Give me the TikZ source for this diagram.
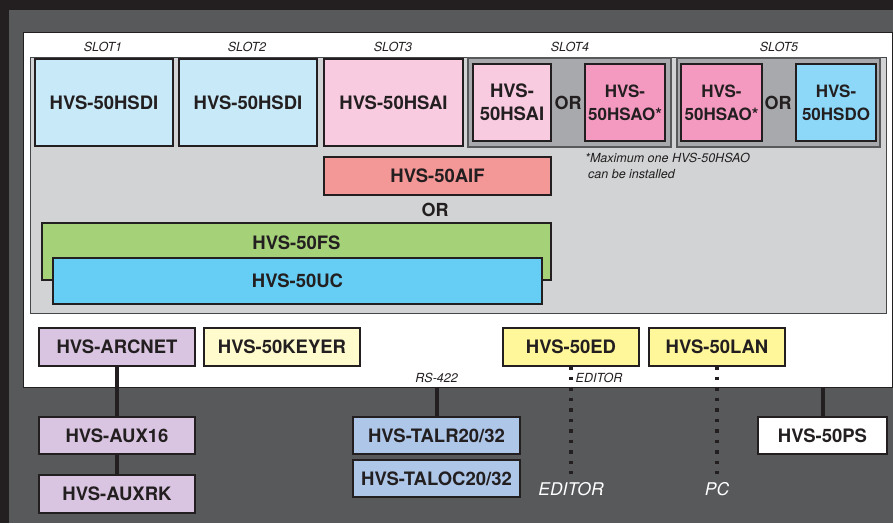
\documentclass[tikz,border=0pt]{standalone}
\usepackage{fontspec}
\setmainfont{TeX Gyre Heros}
\definecolor{blk}{HTML}{231F20}
\definecolor{dgray}{HTML}{58595B}
\definecolor{lgray}{HTML}{D1D3D4}
\definecolor{sgray}{HTML}{A7A9AC}
\definecolor{cSDI}{HTML}{C7E9F8}
\definecolor{cSAI}{HTML}{F9CBE0}
\definecolor{cSAO}{HTML}{F49AC1}
\definecolor{cSDO}{HTML}{8DD8F8}
\definecolor{cAIF}{HTML}{F49797}
\definecolor{cFS}{HTML}{A5D279}
\definecolor{cUC}{HTML}{66CEF5}
\definecolor{cARC}{HTML}{D9C5E1}
\definecolor{cKEY}{HTML}{FFFBCC}
\definecolor{cED}{HTML}{FFF799}
\definecolor{cTAL}{HTML}{AEC6E8}
\begin{document}
\begin{tikzpicture}[x=1pt,y=-1pt,
  box/.style={draw=blk, line width=2.5pt, text=blk, inner sep=0pt, outer sep=0pt,
    anchor=north west, align=center, font=\bfseries\fontsize{18.5}{23}\selectfont},
  sbox/.style={box, font=\bfseries\fontsize{17}{23}\selectfont},
  slotlbl/.style={text=blk, font=\itshape\fontsize{12.5}{14}\selectfont, inner sep=0pt},
  orlbl/.style={text=blk, font=\bfseries\fontsize{18}{20}\selectfont, inner sep=0pt},
  wire/.style={draw=blk, line width=4pt},
  dwire/.style={draw=blk, line width=4pt, dash pattern=on 3.5pt off 7pt},
  outlbl/.style={text=white, font=\itshape\fontsize{17.5}{20}\selectfont, inner sep=0pt}
]
\useasboundingbox (0,0) rectangle (893,523);
\fill[blk] (0,0) rectangle (893,523);
\fill[dgray] (9,10) rectangle (893,523);
\draw[blk, fill=white, line width=1pt] (23,32) rectangle (892,387);
\draw[dgray!80!black, fill=lgray, line width=1pt] (30,57) rectangle (886,313);
\draw[dgray, fill=sgray, line width=1.2pt] (468,58) rectangle (671,147);
\draw[dgray, fill=sgray, line width=1.2pt] (677,58) rectangle (880,147);

% slot labels
\node[slotlbl] (s1) at (103,47) {SLOT1};
\node[slotlbl] (s2) at (247,47) {SLOT2};
\node[slotlbl] (s3) at (393,47) {SLOT3};
\node[slotlbl] (s4) at (570,47) {SLOT4};
\node[slotlbl] (s5) at (779,47) {SLOT5};

% slot cards
\node[box, fill=cSDI, minimum width=138pt, minimum height=87pt] (hsdi1) at (35,59) {HVS-50HSDI};
\node[box, fill=cSDI, minimum width=138pt, minimum height=87pt] (hsdi2) at (179,59) {HVS-50HSDI};
\node[box, fill=cSAI, minimum width=139pt, minimum height=87pt] (hsai3) at (324,59) {HVS-50HSAI};
\node[box, fill=cSAI, minimum width=78pt, minimum height=77pt] (hsai4) at (473,64) {HVS-\\50HSAI};
\node[orlbl] (or4) at (568,103) {OR};
\node[sbox, fill=cSAO, minimum width=80pt, minimum height=77pt] (hsao4) at (585,64) {HVS-\\50HSAO*};
\node[sbox, fill=cSAO, minimum width=81pt, minimum height=77pt] (hsao5) at (681,64) {HVS-\\50HSAO*};
\node[orlbl] (or5) at (778,103) {OR};
\node[sbox, fill=cSDO, minimum width=80pt, minimum height=77pt] (hsdo5) at (796,64) {HVS-\\50HSDO};

\node[slotlbl, anchor=north west, align=left, font=\itshape\fontsize{12.5}{16}\selectfont] (note) at (585,153)
  {*Maximum one HVS-50HSAO\\\hspace*{3pt}can be installed};

% AIF / FS / UC
\node[box, fill=cAIF, minimum width=227pt, minimum height=38pt] (aif) at (324,157) {HVS-50AIF};
\node[orlbl] (ormid) at (435,210) {OR};
\node[box, fill=cFS, minimum width=509pt, minimum height=57pt] (fs) at (42,223) {};
\node[text=blk, font=\bfseries\fontsize{18.5}{20}\selectfont, inner sep=0pt] (fstext) at ([yshift=-20pt]fs.north) {HVS-50FS};
\node[box, fill=cUC, minimum width=489pt, minimum height=46pt] (uc) at (53,258) {HVS-50UC};

% lower row in panel
\node[box, fill=cARC, minimum width=156pt, minimum height=38pt] (arc) at (39,328) {HVS-ARCNET};
\node[box, fill=cKEY, minimum width=156pt, minimum height=38pt] (key) at (204,328) {HVS-50KEYER};
\node[box, fill=cED, minimum width=136pt, minimum height=38pt] (ed) at (503,328) {HVS-50ED};
\node[box, fill=cED, minimum width=136pt, minimum height=38pt] (lan) at (649,328) {HVS-50LAN};

% external units
\node[box, fill=cARC, minimum width=156pt, minimum height=37pt] (aux16) at (39,417) {HVS-AUX16};
\node[box, fill=cARC, minimum width=156pt, minimum height=38pt] (auxrk) at (39,475) {HVS-AUXRK};
\node[box, fill=cTAL, minimum width=167pt, minimum height=37pt] (talr) at (353,417) {HVS-TALR20/32};
\node[box, fill=cTAL, minimum width=167pt, minimum height=37pt] (taloc) at (353,460) {HVS-TALOC20/32};
\node[box, fill=white, minimum width=129pt, minimum height=37pt] (ps) at (758,417) {HVS-50PS};

% connector end points
\coordinate (rs) at (talr.north |- 0,387);
\coordinate (pstop) at (ps.north |- 0,387);
\coordinate (edend) at (ed.south |- 0,474);
\coordinate (lanend) at (lan.south |- 0,474);

% connectors
\draw[wire] (arc.south) -- (aux16.north);
\draw[wire] (aux16.south) -- (auxrk.north);
\draw[wire] (rs) -- (talr.north);
\draw[wire] (pstop) -- (ps.north);
\draw[dwire] (ed.south) -- (edend);
\draw[dwire] (lan.south) -- (lanend);

% connector labels
\node[slotlbl, anchor=east] (rslbl) at (458,378) {RS-422};
\node[slotlbl, anchor=west, fill=white, inner sep=0.5pt] (edlbl) at (575,378) {EDITOR};
\node[outlbl] (edout) at (ed.south |- 0,489) {EDITOR};
\node[outlbl] (pcout) at (lan.south |- 0,489) {PC};
\end{tikzpicture}
\end{document}
